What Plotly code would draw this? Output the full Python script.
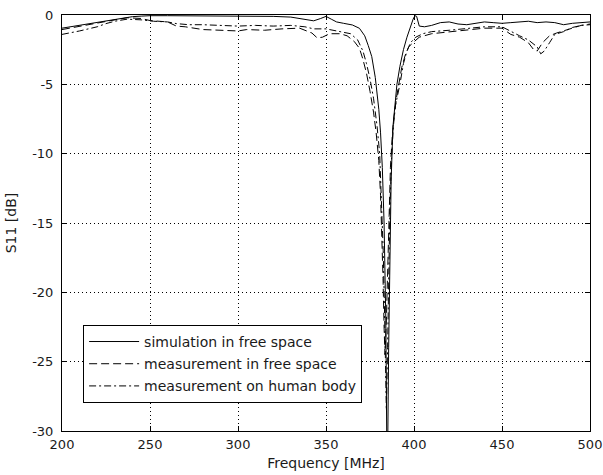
import plotly.graph_objects as go

# Simulation in free space
sim_f = [200, 205, 210, 215, 220, 225, 230, 235, 240, 245, 250, 260, 270, 280, 290, 300, 310, 320, 330, 335,
         340, 343, 347, 350, 353, 356, 360, 365, 369, 372, 374, 376, 378, 379, 380, 381, 382, 383, 384, 384.6,
         385.0, 385.6, 386.2, 387.0, 388.0, 389.0, 390.3, 392, 394, 396, 398, 399.5, 400.5, 401.5, 403, 406,
         410, 415, 420, 425, 430, 435, 440, 445, 450, 455, 460, 465, 470, 475, 480, 485, 490, 495, 500]
sim_s = [-0.95, -0.85, -0.72, -0.6, -0.5, -0.42, -0.35, -0.22, -0.12, -0.08, -0.05, -0.05, -0.06, -0.04, -0.05,
         -0.05, -0.08, -0.1, -0.15, -0.25, -0.38, -0.42, -0.25, -0.1, -0.3, -0.5, -0.6, -0.72, -0.96, -1.5,
         -2.2, -3.0, -4.5, -5.5, -6.8, -8.5, -11, -15, -22, -32,
         -32, -24, -17, -12, -8.1, -6.6, -5.0, -3.7, -2.5, -1.6, -0.8, -0.3, -0.05, -0.1, -0.8, -0.85,
         -0.75, -0.55, -0.5, -0.65, -0.7, -0.6, -0.5, -0.55, -0.6, -0.55, -0.5, -0.45, -0.55, -0.5, -0.55,
         -0.7, -0.6, -0.55, -0.5]

# Measurement in free space
mfs_f = [200, 210, 220, 230, 237, 245, 250, 260, 265, 270, 280, 290, 300, 305, 315, 325, 335, 342, 345, 348,
         352, 358, 362, 366, 369, 371, 373, 375, 377, 378.5, 380, 381, 381.8, 382.4, 383.0, 383.5, 384.3,
         385.0, 385.8, 386.6, 387.5, 388.5, 390, 391.5, 393, 395, 397, 399.4, 403, 410, 420, 430, 440, 450,
         455, 460, 465, 468, 470, 473, 477, 481, 485, 490, 495, 500]
mfs_s = [-1.05, -0.8, -0.55, -0.35, -0.2, -0.25, -0.4, -0.5, -0.8, -0.85, -1.05, -1.1, -1.15, -1.05, -1.1,
         -1.0, -0.95, -1.3, -1.65, -1.6, -1.35, -1.35, -1.5, -1.9, -2.4, -3.2, -4.2, -5.5, -7.0, -8.5, -10.5,
         -13, -16, -19, -22.5, -24.5, -22, -18, -14, -11, -9, -7.5, -6, -5, -3.8, -2.9, -2.3, -2.0, -1.6,
         -1.35, -1.2, -1.05, -0.95, -0.95, -1.4, -1.6, -2.0, -2.5, -2.6, -2.0, -1.5, -1.3, -1.15, -0.95,
         -0.75, -0.65]

# Measurement on human body
mhb_f = [200, 205, 210, 215, 220, 225, 230, 237, 245, 252, 260, 265, 272, 280, 290, 300, 310, 320, 330, 338,
         343, 350, 358, 364, 368, 371, 373, 375, 377, 379, 380.5, 381.5, 382.5, 383.2, 383.8, 384.3, 385.0,
         385.6, 386.3, 387.2, 388.3, 389.5, 392, 394, 396, 398, 401, 405, 410, 420, 430, 440, 450, 455, 460,
         465, 470, 472, 474, 477, 480, 485, 490, 495, 500]
mhb_s = [-1.4, -1.3, -1.15, -1.0, -0.85, -0.62, -0.45, -0.3, -0.35, -0.45, -0.5, -0.62, -0.7, -0.7, -0.75,
         -0.8, -0.75, -0.8, -0.75, -0.85, -1.0, -1.0, -1.2, -1.35, -1.8, -2.6, -3.5, -4.6, -6.0, -8.0, -10,
         -13, -17, -21, -25, -28.5, -24, -19, -14, -10.5, -8, -6.5, -5, -3.5, -2.6, -2.0, -1.6, -1.35, -1.2,
         -1.1, -0.95, -0.85, -0.85, -1.2, -1.5, -1.8, -2.3, -2.8, -2.6, -2.0, -1.4, -1.2, -0.9, -0.75, -0.7]

x_ticks = [200, 250, 300, 350, 400, 450, 500]
y_ticks = [0, -5, -10, -15, -20, -25, -30]

FAM = "DejaVu Sans, Liberation Sans, Arial, sans-serif"
font = dict(family=FAM, size=13, color="#1a1a1a")
title_font = dict(family=FAM, size=14, color="#1a1a1a")

fig = go.Figure()
fig.add_trace(go.Scatter(x=sim_f, y=sim_s, mode="lines", name="simulation in free space",
                         legendgroup="a", line=dict(color="black", width=1)))
fig.add_trace(go.Scatter(x=mfs_f, y=mfs_s, mode="lines", name="measurement in free space",
                         legendgroup="b", line=dict(color="black", width=1, dash="8px,4px")))
fig.add_trace(go.Scatter(x=mhb_f, y=mhb_s, mode="lines", name="measurement on human body",
                         legendgroup="c", line=dict(color="black", width=1, dash="7px,3px,2px,3px")))

axis_common = dict(showline=True, linecolor="black", linewidth=1, mirror="ticks", ticks="inside",
                   ticklen=5, tickcolor="black", showgrid=True, gridcolor="black", gridwidth=1,
                   griddash="1px,3px", zeroline=False, tickfont=font, ticklabeloverflow="allow",
                   automargin=False)

fig.update_xaxes(range=[200, 500], tickvals=x_ticks, ticktext=[str(v) for v in x_ticks],
                 ticklabelstandoff=1,
                 title=dict(text="Frequency [MHz]", font=title_font, standoff=7), **axis_common)
fig.update_yaxes(range=[-30, 0], tickvals=y_ticks, ticktext=[str(v) for v in y_ticks],
                 ticklabelstandoff=5,
                 title=dict(text="S11 [dB]", font=title_font, standoff=12), **axis_common)

fig.update_layout(
    width=603, height=475,
    margin=dict(l=62, r=13, t=15, b=44, autoexpand=False),
    paper_bgcolor="white", plot_bgcolor="white",
    font=font,
    showlegend=True,
    legend=dict(x=0.04, y=0.255, xanchor="left", yanchor="top", bgcolor="white",
                bordercolor="black", borderwidth=1, font=dict(family=FAM, size=14, color="#1a1a1a"),
                tracegroupgap=1, itemwidth=50),
)

fig.write_html("out.html", config={"displayModeBar": False},
               post_script="document.body.style.margin='0px';document.body.style.overflow='hidden';")
